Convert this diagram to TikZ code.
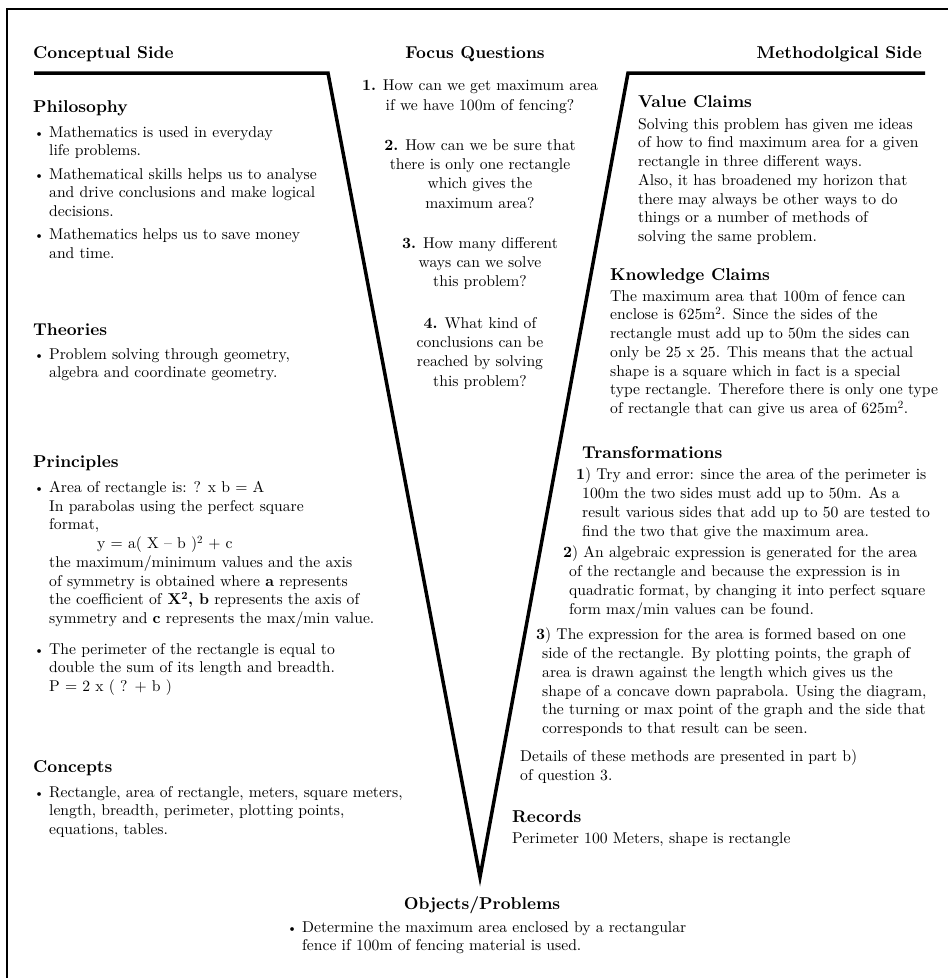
\documentclass[tikz,border=0pt]{standalone}
\usepackage{fontspec}
\setmainfont{lmroman10}[Extension=.otf, UprightFont=*-regular, BoldFont=*-bold, ItalicFont=*-italic, BoldItalicFont=*-bolditalic]
\usepackage{tikz}
\usetikzlibrary{positioning}

\newcommand{\headfont}{\fontsize{17.2}{20}\selectfont\bfseries}
\newcommand{\bodyfont}{\fontsize{15.7}{18.8}\selectfont}
\newcommand{\questfont}{\fontsize{15.7}{19.4}\selectfont}
\newcommand{\itemdot}{\makebox[15bp][l]{\fontsize{13}{13}\selectfont\textbullet}}
\newcommand{\itemind}{\hspace*{15bp}}

\begin{document}
\begin{tikzpicture}[
x=1bp, y=-1bp,
head/.style={
font=\headfont,
inner sep=0pt,
anchor=base west
},
txt/.style={
font=\bodyfont,
inner sep=0pt,
align=left,
anchor=north west
},
question/.style={
font=\questfont,
inner sep=0pt,
align=center,
anchor=north
},
vline/.style={line width=3.5bp, line join=miter}
]
\useasboundingbox (0,0) rectangle (948,978);

% Frame
\coordinate (fbl) at (7,978);
\coordinate (ftl) at (7,9);
\coordinate (ftr) at (948,9);
\draw[line width=1.2bp] (fbl) -- (ftl) -- (ftr);

% V
\coordinate (lend) at (34,73);
\coordinate (lcorner) at (328,73);
\coordinate (apex) at (480,877);
\coordinate (rcorner) at (628,73);
\coordinate (rend) at (925,73);
\draw[vline] (lend) -- (lcorner) -- (apex) -- (rcorner) -- (rend);

% Titles
\node[head] (conc) at (33,58) {Conceptual Side};
\node[head,anchor=base] (focus) at (475,58) {Focus Questions};
\node[head,anchor=base east] (meth) at (922,58) {Methodolgical Side};

% Conceptual side
\node[head] (philo) at (33,112) {Philosophy};
\node[txt] (philotxt) at (34,126)
{\itemdot Mathematics is used in everyday\\
\itemind life problems.\\[4.5bp]
\itemdot Mathematical skills helps us to analyse\\
\itemind and drive conclusions and make logical\\
\itemind decisions.\\[4.5bp]
\itemdot Mathematics helps us to save money\\
\itemind and time.};

\node[head] (theo) at (33,335) {Theories};
\node[txt] (theotxt) at (34,348)
{\itemdot Problem solving through geometry,\\
\itemind algebra and coordinate geometry.};

\node[head] (princ) at (33,467) {Principles};
\node[txt] (princtxt) at (34,481)
{\itemdot Area of rectangle is: ? x b = A\\
\itemind In parabolas using the perfect square\\
\itemind format,\\
\hspace*{63bp}y = a( X \textendash\ b )\textsuperscript{2} + c\\
\itemind the maximum/minimum values and the axis\\
\itemind of symmetry is obtained where \textbf{a} represents\\
\itemind the coefficient of \textbf{X\textsuperscript{2}, b} represents the axis of\\
\itemind symmetry and \textbf{c} represents the max/min value.\\[12bp]
\itemdot The perimeter of the rectangle is equal to\\
\itemind double the sum of its length and breadth.\\
\itemind P = 2 x ( ? + b )};

\node[head] (conc2) at (33,772) {Concepts};
\node[txt] (conctxt) at (34,786)
{\itemdot Rectangle, area of rectangle, meters, square meters,\\
\itemind length, breadth, perimeter, plotting points,\\
\itemind equations, tables.};

% Focus questions
\node[question] (q1) at (480,80)
{\textbf{1.} How can we get maximum area\\
if we have 100m of fencing?};
\node[question] (q2) at (480,139)
{\textbf{2.} How can we be sure that\\
there is only one rectangle\\
which gives the\\
maximum area?};
\node[question] (q3) at (480,237)
{\textbf{3.} How many different\\
ways can we solve\\
this problem?};
\node[question] (q4) at (480,317)
{\textbf{4.} What kind of\\
conclusions can be\\
reached by solving\\
this problem?};

% Methodological side
\node[head] (value) at (638,107) {Value Claims};
\node[txt] (valuetxt) at (638,118)
{Solving this problem has given me ideas\\
of how to find maximum area for a given\\
rectangle in three different ways.\\
Also, it has broadened my horizon that\\
there may always be other ways to do\\
things or a number of methods of\\
solving the same problem.};

\node[head] (know) at (610,280) {Knowledge Claims};
\node[txt] (knowtxt) at (610,290)
{The maximum area that 100m of fence can\\
enclose is 625m\textsuperscript{2}. Since the sides of the\\
rectangle must add up to 50m the sides can\\
only be 25 x 25. This means that the actual\\
shape is a square which in fact is a special\\
type rectangle. Therefore there is only one type\\
of rectangle that can give us area of 625m\textsuperscript{2}.};

\node[head] (trans) at (582,458) {Transformations};
\node[txt] (trans1) at (576,468)
{\textbf{1}) Try and error: since the area of the perimeter is\\
\hspace*{6bp}100m the two sides must add up to 50m. As a\\
\hspace*{6bp}result various sides that add up to 50 are tested to\\
\hspace*{6bp}find the two that give the maximum area.};
\node[txt] (trans2) at (563,546)
{\textbf{2}) An algebraic expression is generated for the area\\
\hspace*{6bp}of the rectangle and because the expression is in\\
\hspace*{6bp}quadratic format, by changing it into perfect square\\
\hspace*{6bp}form max/min values can be found.};
\node[txt] (trans3) at (536,628)
{\textbf{3}) The expression for the area is formed based on one\\
\hspace*{6bp}side of the rectangle. By plotting points, the graph of\\
\hspace*{6bp}area is drawn against the length which gives us the\\
\hspace*{6bp}shape of a concave down paprabola. Using the diagram,\\
\hspace*{6bp}the turning or max point of the graph and the side that\\
\hspace*{6bp}corresponds to that result can be seen.};
\node[txt] (details) at (520,750)
{Details of these methods are presented in part b)\\
of question 3.};

\node[head] (rec) at (512,822) {Records};
\node[txt] (rectxt) at (512,832)
{Perimeter 100 Meters, shape is rectangle};

% Objects
\node[head,anchor=base] (obj) at (482,909) {Objects/Problems};
\node[txt] (objtxt) at (287,921)
{\itemdot Determine the maximum area enclosed by a rectangular\\
\itemind fence if 100m of fencing material is used.};

\end{tikzpicture}
\end{document}
